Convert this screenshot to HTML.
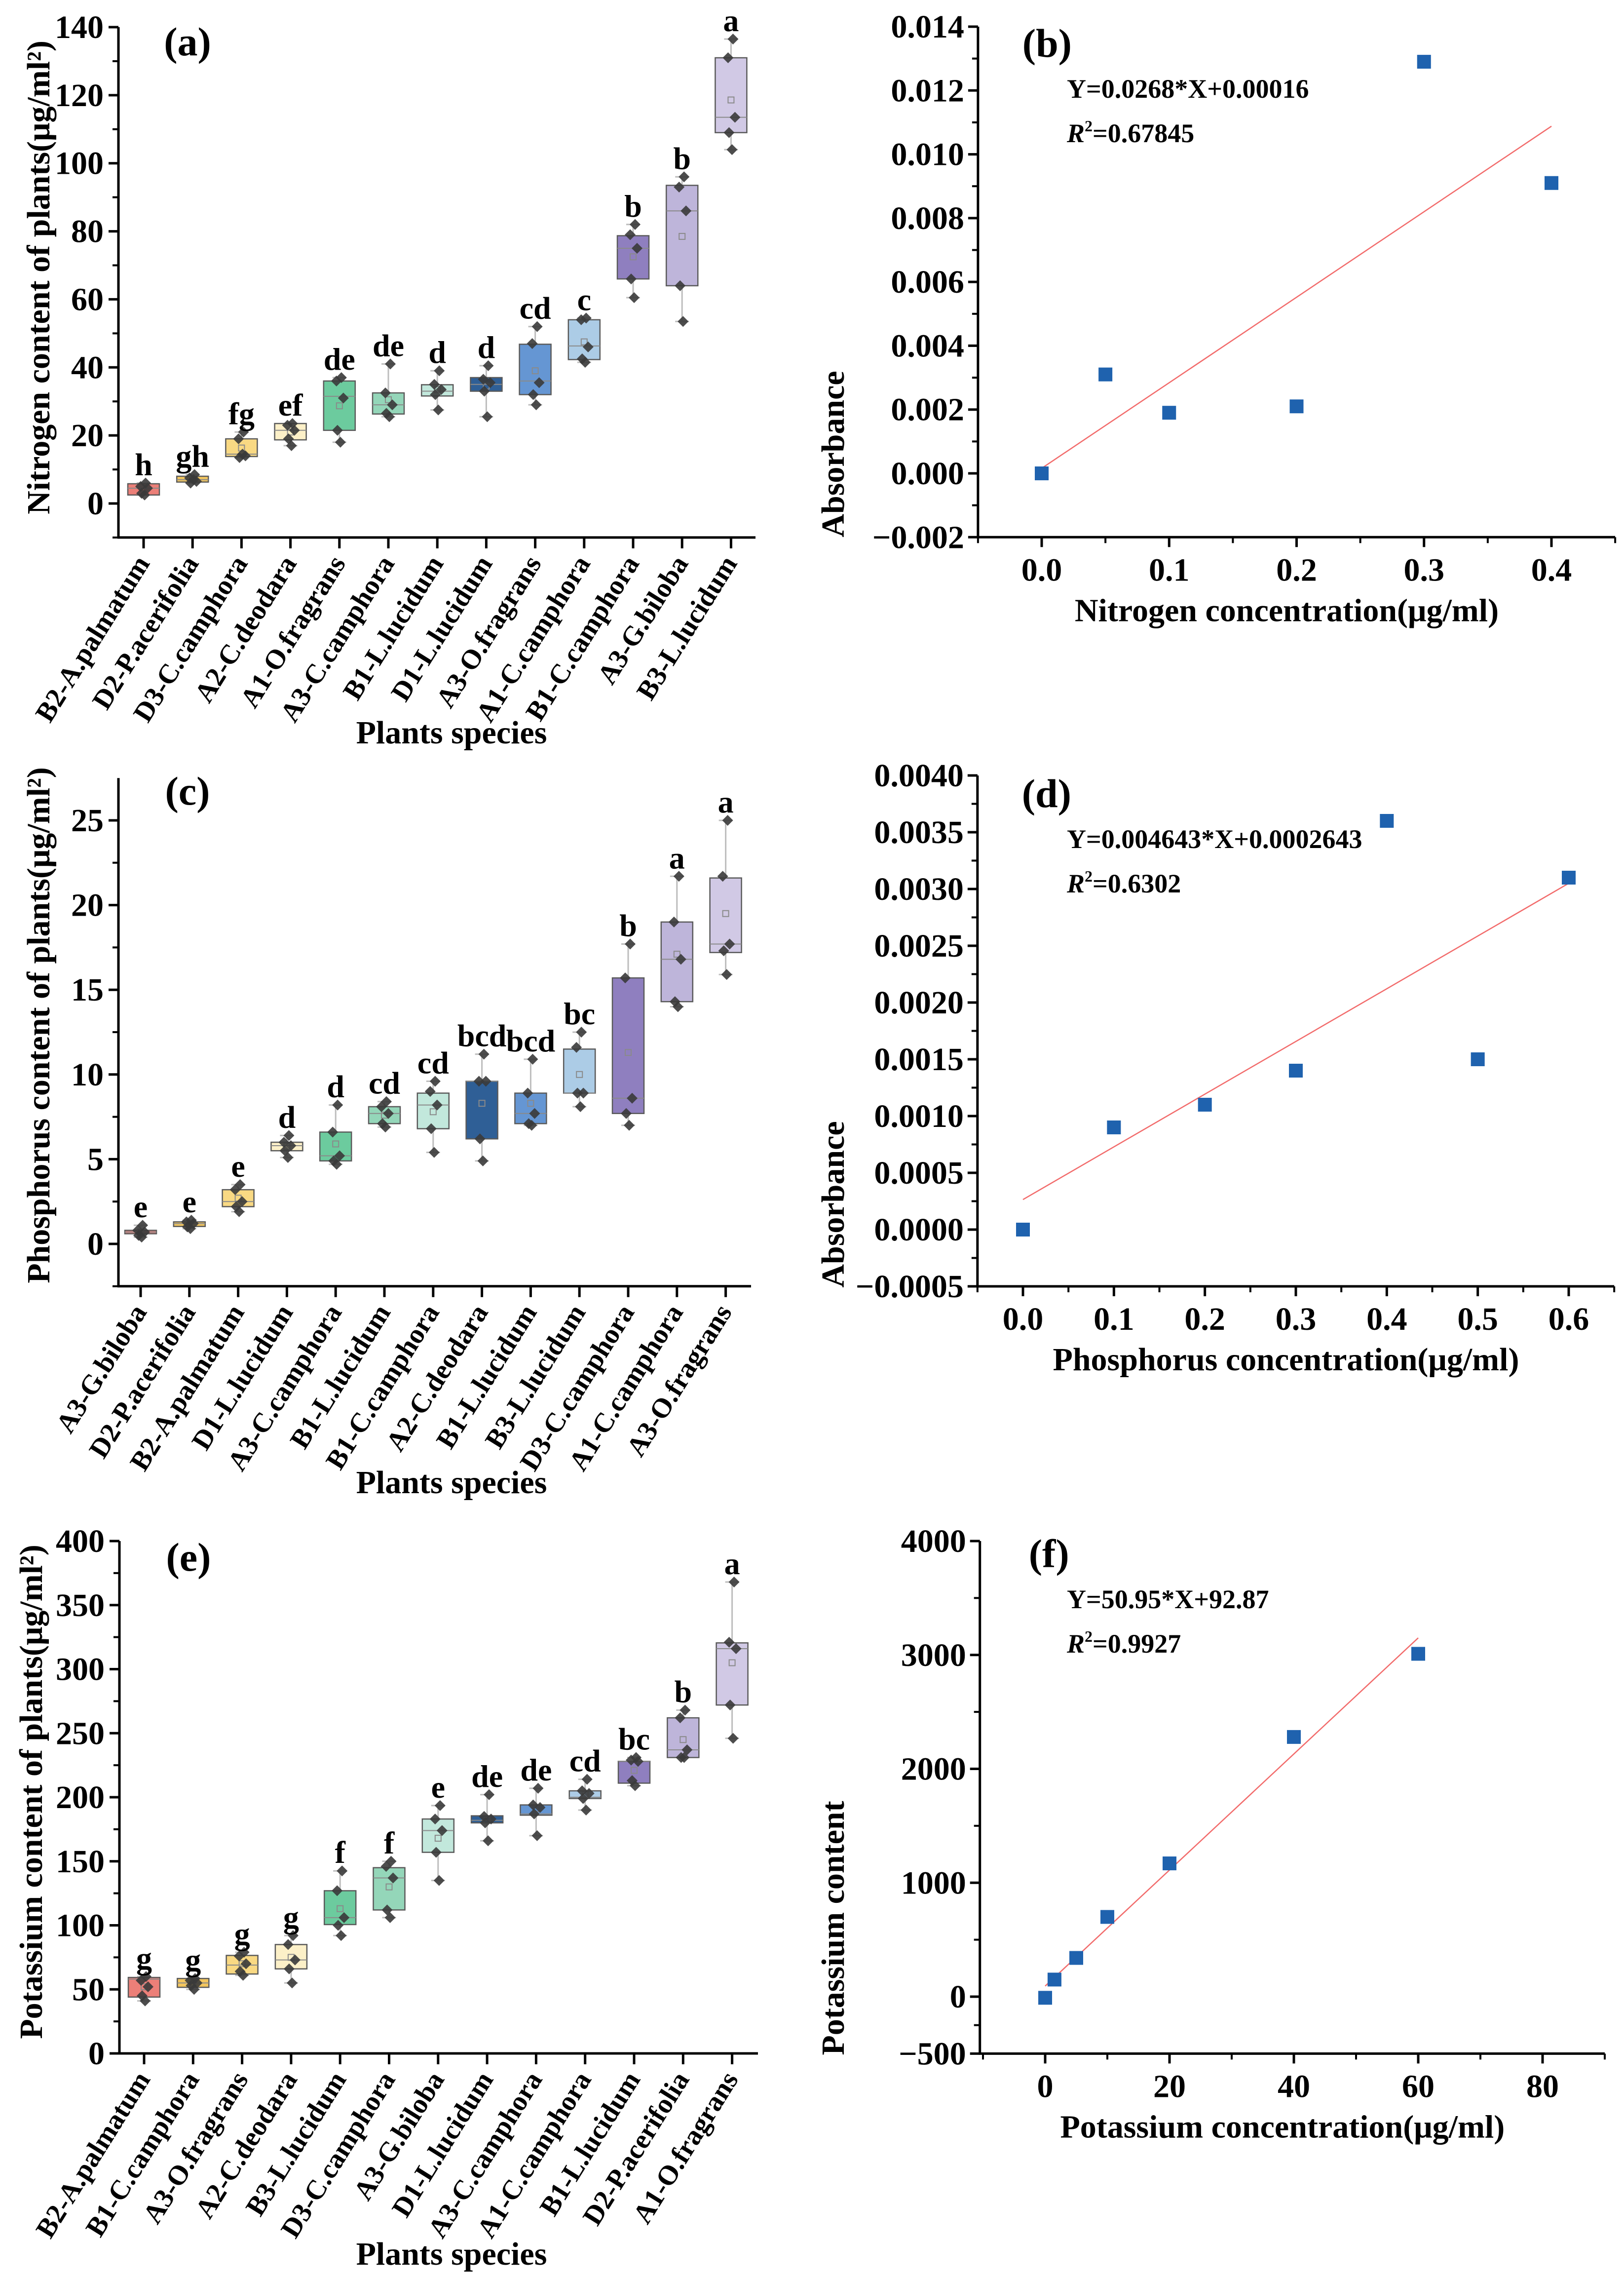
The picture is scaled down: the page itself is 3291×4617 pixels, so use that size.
<!DOCTYPE html>
<html><head><meta charset="utf-8">
<style>
html,body{margin:0;padding:0;background:#fff;}
svg{display:block;}
text{font-family:"Liberation Serif",serif;font-weight:bold;fill:#000;}
</style></head>
<body>
<svg id="fig" xmlns="http://www.w3.org/2000/svg" width="3291" height="4617" viewBox="0 0 3291 4617"></svg>
<script>
// ---------- Panel (a) Nitrogen ----------
const aCats=["B2-A.palmatum","D2-P.acerifolia","D3-C.camphora","A2-C.deodara","A1-O.fragrans","A3-C.camphora","B1-L.lucidum","D1-L.lucidum","A3-O.fragrans","A1-C.camphora","B1-C.camphora","A3-G.biloba","B3-L.lucidum"];
const aQ1=[2.5,6.3,13.8,18.7,21.5,26.3,31.6,33,32,42.3,66,64,109];
const aQ3=[5.8,8,19,23.5,36,32.5,34.9,37,46.8,54,78.7,93.5,131];
const aMed=[4.5,7,14.5,21.5,31.5,29,33,35,36,46.3,75,86,113.5];
const aMean=[4.3,7,16.3,21,28.7,30.5,33.5,34.5,39,47.5,72.5,78.5,118.6];
const aPts=[[6,5,4.5,3,2.5],[8.5,7.5,6.5,6,7],[21,19,14,13.5,14.5],[23.5,23,21.5,19,17],[37,36,31,21.5,18],[41,32.5,29,26.5,25.5],[39,35,33.5,32,27.5],[40.5,36.5,35.5,33,25.5],[52,47,35.5,32,29],[54.5,54,46,42.5,41.5],[82,79,75,66,60.5],[96,93,86,64,53.5],[136.5,131,113.5,109,104]];
const aLetters=["h","gh","fg","ef","de","de","d","d","cd","c","b","b","a"];
const aTicks=[0,20,40,60,80,100,120,140];
// ---------- Panel (c) Phosphorus ----------
const cCats=["A3-G.biloba","D2-P.acerifolia","B2-A.palmatum","D1-L.lucidum","A3-C.camphora","B1-L.lucidum","B1-C.camphora","A2-C.deodara","B1-L.lucidum","B3-L.lucidum","D3-C.camphora","A1-C.camphora","A3-O.fragrans"];
const cQ1=[0.6,1.03,2.2,5.5,4.9,7.1,6.8,6.2,7.1,8.9,7.7,14.3,17.2];
const cQ3=[0.8,1.3,3.2,6.0,6.6,8.1,8.9,9.6,8.9,11.5,15.7,19,21.6];
const cMed=[0.7,1.2,2.5,5.8,5.2,7.7,8.2,9.6,7.7,8.9,8.6,16.8,17.7];
const cMean=[0.7,1.15,2.7,5.75,5.9,7.6,7.8,8.3,8.3,10,11.3,17.1,19.5];
const cPts=[[1.1,0.8,0.7,0.5,0.4],[1.4,1.3,1.2,1.0,0.9],[3.5,3.2,2.5,2.2,1.9],[6.4,6.0,5.8,5.5,5.1],[8.2,6.6,5.2,4.9,4.7],[8.4,8.1,7.7,7.1,6.9],[9.6,9.0,8.2,6.8,5.4],[11.2,9.6,9.6,6.2,4.9],[10.9,8.9,7.7,7.1,7.0],[12.5,11.6,8.9,8.9,8.1],[17.7,15.7,8.6,7.7,7.0],[21.7,19,16.8,14.3,14.0],[25,21.7,17.7,17.3,15.9]];
const cLetters=["e","e","e","d","d","cd","cd","bcd","bcd","bc","b","a","a"];
const cTicks=[0,5,10,15,20,25];
// ---------- Panel (e) Potassium ----------
const eCats=["B2-A.palmatum","B1-C.camphora","A3-O.fragrans","A2-C.deodara","B3-L.lucidum","D3-C.camphora","A3-G.biloba","D1-L.lucidum","A3-C.camphora","A1-C.camphora","B1-L.lucidum","D2-P.acerifolia","A1-O.fragrans"];
const eQ1=[44,51.6,62,66,100.6,112,157,180,186,199,211,231,272];
const eQ3=[59.3,58.5,76.5,85,127,145,183,185.5,194,205,228,262,320.5];
const eMed=[58,55,69,73,106,137,174,182,187,200,228,237,316];
const eMean=[52,55,70,75,113,130,168,182,191,202,221,245,305];
const ePts=[[60,57,52,45,41],[58.5,57,55,53,50],[79,76,70,64,61],[92,85,73,66,55],[142.5,127,106,100,92],[150,146,137,112,106],[193.5,183,174,157,135],[202,185,183,180,166],[207,194,192,187,170],[214,205,203,199,190],[231,229,228,213,209],[268,262,237,231,231],[368,321,316,272,246]];
const eLetters=["g","g","g","g","f","f","e","de","de","cd","bc","b","a"];
const eTicks=[0,50,100,150,200,250,300,350,400];
// ---------- Panel (b) ----------
const bX=[0,0.05,0.1,0.2,0.3,0.4];
const bY=[0,0.0031,0.0019,0.0021,0.0129,0.0091];
const bFit=[0.0268,0.00016];
const bXTicks=[0,0.1,0.2,0.3,0.4];
const bYTicks=[-0.002,0,0.002,0.004,0.006,0.008,0.010,0.012,0.014];
// ---------- Panel (d) ----------
const dX=[0,0.1,0.2,0.3,0.4,0.5,0.6];
const dY=[0,0.0009,0.0011,0.0014,0.0036,0.0015,0.0031];
const dFit=[0.004643,0.0002643];
const dXTicks=[0,0.1,0.2,0.3,0.4,0.5,0.6];
const dYTicks=[-0.0005,0,0.0005,0.0010,0.0015,0.0020,0.0025,0.0030,0.0035,0.0040];
// ---------- Panel (f) ----------
const fX=[0,1.5,5,10,20,40,60];
const fY=[-10,150,340,700,1170,2280,3010];
const fFit=[50.95,92.87];
const fXTicks=[0,20,40,60,80];
const fYTicks=[-500,0,1000,2000,3000,4000];

const palette=["#ec7f78","#f3c65e","#f9d983","#fcf0c8","#6ccb9e","#94d6b9","#c2e8dc","#2f5f96","#6596d3","#acccE6","#8f7fbf","#beb5da","#d1c9e5"];
const svg=document.getElementById('fig');
const NS="http://www.w3.org/2000/svg";
function mk(tag,attrs,parent){const e=document.createElementNS(NS,tag);for(const k in attrs)e.setAttribute(k,attrs[k]);(parent||svg).appendChild(e);return e;}
function txt(s,x,y,size,anchor,parent,extra){const t=mk('text',Object.assign({x:x,y:y,'font-size':size,'text-anchor':anchor||'middle'},extra||{}),parent);t.textContent=s;return t;}

function boxPanel(o){
  const g=mk('g',{});
  
  
  const ys=v=>o.p0+(v-o.v0)*(o.p1-o.p0)/(o.v1-o.v0);
  const xs=i=>o.cx0+i*o.dx;
  const yTop=ys(o.vmax), yBot=ys(o.vmin);
  const ax=mk('line',{x1:o.axX,y1:yTop,x2:o.axX,y2:yBot+2,stroke:'#000','stroke-width':5},g);
  
  const bx=mk('line',{x1:o.axX-2,y1:yBot,x2:o.axR,y2:yBot,stroke:'#000','stroke-width':5},g);
  
  o.ticks.forEach((t,k)=>{
    const y=ys(t);
    mk('line',{x1:o.axX-20,y1:y,x2:o.axX,y2:y,stroke:'#000','stroke-width':5},g);
    const tl=txt(String(t),o.axX-30,y+22,66,'end',g);
    
    if(k<o.ticks.length-1){const ym=ys(t+(o.ticks[1]-o.ticks[0])/2);mk('line',{x1:o.axX-12,y1:ym,x2:o.axX,y2:ym,stroke:'#000','stroke-width':4},g);}
  });
  if(o.vmin<o.ticks[0]){const ym=ys(o.ticks[0]-(o.ticks[1]-o.ticks[0])/2);if(ym<=yBot)mk('line',{x1:o.axX-12,y1:ym,x2:o.axX,y2:ym,stroke:'#000','stroke-width':4},g);}
  const hw=32, jit=[4,-6,8,-4,2];
  o.cats.forEach((c,i)=>{
    const x=xs(i);
    mk('line',{x1:x,y1:yBot,x2:x,y2:yBot+22,stroke:'#000','stroke-width':5},g);
    const lab=txt(c,0,0,56,'end',g,{transform:`translate(${x+14},${yBot+52}) rotate(-58)`});
    
    const pts=o.pts[i];const hi=Math.max(...pts), lo=Math.min(...pts);
    const bg=mk('g',{},g);
    
    
    mk('line',{x1:x,y1:ys(hi),x2:x,y2:ys(lo),stroke:'#bdbdbd','stroke-width':3},bg);
    mk('line',{x1:x-14,y1:ys(hi),x2:x+14,y2:ys(hi),stroke:'#bdbdbd','stroke-width':3},bg);
    mk('line',{x1:x-14,y1:ys(lo),x2:x+14,y2:ys(lo),stroke:'#bdbdbd','stroke-width':3},bg);
    mk('rect',{x:x-hw,y:ys(o.q3[i]),width:2*hw,height:Math.max(2,ys(o.q1[i])-ys(o.q3[i])),fill:palette[i],stroke:'#5a5a5a','stroke-width':2.5},bg);
    mk('line',{x1:x-hw,y1:ys(o.med[i]),x2:x+hw,y2:ys(o.med[i]),stroke:'#8a8a8a','stroke-width':2},bg);
    mk('rect',{x:x-6,y:ys(o.mean[i])-6,width:12,height:12,fill:'none',stroke:'#8a8a8a','stroke-width':2},bg);
    pts.forEach((p,k)=>{const px=x+jit[k],py=ys(p);
      const d=mk('path',{d:`M${px} ${py-11}L${px+11} ${py}L${px} ${py+11}L${px-11} ${py}Z`,fill:'#3a3a3a','fill-opacity':0.9},bg);
      });
    const L=txt(o.letters[i],x,ys(hi)-16,64,'middle',g);
    
  });
  const pl=txt(o.label,o.axX+140,o.labY,82,'middle',g);
  
  const yt=txt(o.ytitle,0,0,66,'middle',g,{transform:`translate(${o.ytX},${o.ytY}) rotate(-90)`});
  
  const xt=txt('Plants species',915,o.xtY,66,'middle',g);
  
}

boxPanel({name:'nitrogen-boxplot',label:'(a)',labY:112,cats:aCats,q1:aQ1,q3:aQ3,med:aMed,mean:aMean,pts:aPts,letters:aLetters,ticks:aTicks,
  v0:0,p0:1020,v1:140,p1:55,vmin:-10,vmax:140,axX:240,axR:1531,cx0:291,dx:99.2,ytitle:'Nitrogen content of plants(μg/ml²)',ytX:100,ytY:562,xtY:1506});
boxPanel({name:'phosphorus-boxplot',label:'(c)',labY:1630,cats:cCats,q1:cQ1,q3:cQ3,med:cMed,mean:cMean,pts:cPts,letters:cLetters,ticks:cTicks,
  v0:0,p0:2520,v1:25,p1:1662,vmin:-2.5,vmax:27.5,axX:240,axR:1522,cx0:285,dx:98.8,ytitle:'Phosphorus content of plants(μg/ml²)',ytX:100,ytY:2077,xtY:3025});
boxPanel({name:'potassium-boxplot',label:'(e)',labY:3182,cats:eCats,q1:eQ1,q3:eQ3,med:eMed,mean:eMean,pts:ePts,letters:eLetters,ticks:eTicks,
  v0:0,p0:4160,v1:400,p1:3122,vmin:0,vmax:400,axX:242,axR:1536,cx0:292,dx:99.3,ytitle:'Potassium content of plants(μg/ml²)',ytX:85,ytY:3630,xtY:4588});

function scatterPanel(o){
  const g=mk('g',{});
  
  
  const xs=v=>o.xp0+(v-o.xv0)*(o.xp1-o.xp0)/(o.xv1-o.xv0);
  const ys=v=>o.yp0+(v-o.yv0)*(o.yp1-o.yp0)/(o.yv1-o.yv0);
  const yTop=ys(o.ymax), yBot=ys(o.ymin), xL=xs(o.xmin), xR=xs(o.xmax);
  const ax=mk('line',{x1:xL,y1:yTop,x2:xL,y2:yBot+2,stroke:'#000','stroke-width':5},g);
  
  const bx=mk('line',{x1:xL-2,y1:yBot,x2:xR,y2:yBot,stroke:'#000','stroke-width':5},g);
  
  const ystep=o.yTicks[2]-o.yTicks[1];
  o.yTicks.forEach((t,k)=>{const y=ys(t);
    mk('line',{x1:xL-20,y1:y,x2:xL,y2:y,stroke:'#000','stroke-width':5},g);
    const s=(t<0?'\u2212':'')+Math.abs(t).toFixed(o.ydec);
    const tl=txt(s,xL-28,y+22,66,'end',g);
    
    if(k<o.yTicks.length-1){const ym=ys(t+Math.min(ystep,o.yTicks[k+1]-t)/2);mk('line',{x1:xL-12,y1:ym,x2:xL,y2:ym,stroke:'#000','stroke-width':4},g);}
  });
  const xstep=o.xTicks[1]-o.xTicks[0];
  for(let v=o.xTicks[0]-xstep/2;v<=o.xmax+1e-9;v+=xstep/2){
    const x=xs(v);if(x<xL)continue;
    const major=o.xTicks.some(t=>Math.abs(t-v)<1e-9);
    mk('line',{x1:x,y1:yBot,x2:x,y2:yBot+(major?20:12),stroke:'#000','stroke-width':major?5:4},g);
  }
  o.xTicks.forEach((t,k)=>{const tl=txt(t.toFixed(o.xdec),xs(t),yBot+88,66,'middle',g,o.xNormal&&o.xNormal[k]?{'font-weight':'normal'}:{});
    });
  const fx0=o.xs[0], fx1=o.xs[o.xs.length-1];
  const fl=mk('line',{x1:xs(fx0),y1:ys(o.fit[0]*fx0+o.fit[1]),x2:xs(fx1),y2:ys(o.fit[0]*fx1+o.fit[1]),stroke:'#f26b6b','stroke-width':2.5},g);
  
  o.xs.forEach((v,i)=>{const m=mk('rect',{x:xs(v)-14,y:ys(o.ys[i])-14,width:28,height:28,fill:'#1f62ae'},g);
    });
  const pl=txt(o.label,xL+140,o.top+115,82,'middle',g);
  
  const eq=txt(o.eq,2162,o.top+198,54,'start',g);
  
  const r2=mk('text',{x:2162,y:o.top+288,'font-size':54,'text-anchor':'start'},g);
  
  r2.innerHTML='<tspan font-style="italic">R</tspan><tspan font-size="32" dy="-22">2</tspan><tspan dy="22">='+o.r2+'</tspan>';
  const yt=txt(o.ytitle,0,0,66,'middle',g,{transform:`translate(${1710},${o.ytY}) rotate(-90)`});
  
  const xt=txt(o.xtitle,(xL+xR)/2-20,yBot+170,66,'middle',g);
  
}
scatterPanel({name:'nitrogen-calibration',label:'(b)',top:0,xs:bX,ys:bY,fit:bFit,xTicks:bXTicks,yTicks:bYTicks,xdec:1,ydec:3,
  xv0:0,xp0:2111,xv1:0.4,xp1:3144,xmin:-0.05,xmax:0.45,yv0:0,yp0:959,yv1:0.014,yp1:54,ymin:-0.002,ymax:0.014,
  eq:'Y=0.0268*X+0.00016',r2:'0.67845',ytitle:'Absorbance',ytY:920,xtitle:'Nitrogen concentration(μg/ml)'});
scatterPanel({name:'phosphorus-calibration',label:'(d)',top:1520,xs:dX,ys:dY,fit:dFit,xTicks:dXTicks,yTicks:dYTicks,xdec:1,ydec:4,
  xv0:0,xp0:2073,xv1:0.6,xp1:3179,xmin:-0.05,xmax:0.65,yv0:0,yp0:2491,yv1:0.004,yp1:1571,ymin:-0.0005,ymax:0.004,
  eq:'Y=0.004643*X+0.0002643',r2:'0.6302',ytitle:'Absorbance',ytY:2440,xtitle:'Phosphorus concentration(μg/ml)'});
scatterPanel({name:'potassium-calibration',label:'(f)',top:3060,xs:fX,ys:fY,fit:fFit,xTicks:fXTicks,yTicks:fYTicks,xdec:0,ydec:0,xNormal:[true,true,false,false,true],
  xv0:0,xp0:2118,xv1:80,xp1:3126,xmin:-10.5,xmax:90,yv0:0,yp0:4045,yv1:4000,yp1:3122,ymin:-500,ymax:4000,
  eq:'Y=50.95*X+92.87',r2:'0.9927',ytitle:'Potassium content',ytY:3906,xtitle:'Potassium concentration(μg/ml)'});
</script>
</body></html>
